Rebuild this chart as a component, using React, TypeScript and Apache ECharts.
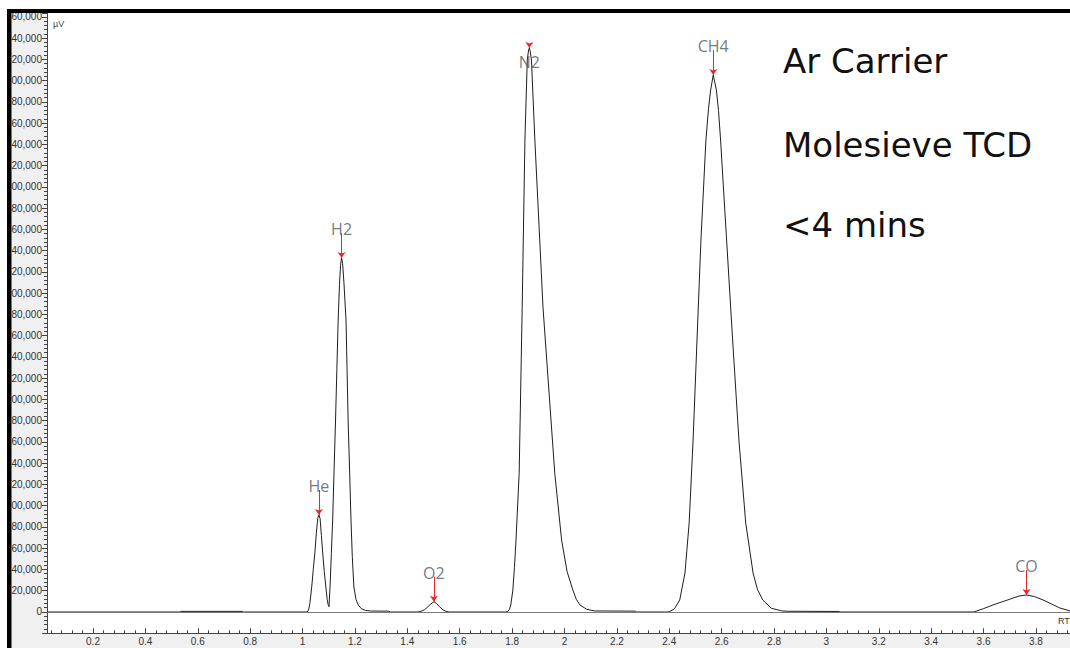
import React, { useEffect, useRef } from "react";
import * as echarts from "echarts";

// Retention time (min) of the chromatogram trace
const rt = [
  0.025, 0.53, 0.535, 0.77, 0.775, 1.01,
  // He
  1.018, 1.023, 1.028, 1.035, 1.041, 1.047, 1.053, 1.058, 1.0626, 1.067, 1.072, 1.077, 1.083, 1.089, 1.094, 1.098, 1.101,
  // H2
  1.105, 1.11, 1.115, 1.12, 1.126, 1.131, 1.136, 1.141, 1.145, 1.149, 1.153, 1.158, 1.166, 1.17, 1.174, 1.18, 1.185,
  1.19, 1.196, 1.204, 1.213, 1.225, 1.24, 1.26, 1.33, 1.335,
  // O2
  1.44, 1.452, 1.465, 1.478, 1.49, 1.5015, 1.512, 1.524, 1.536, 1.548, 1.56,
  // N2
  1.775, 1.784, 1.79, 1.795, 1.803, 1.809, 1.815, 1.827, 1.8386, 1.849, 1.858, 1.863, 1.866, 1.869, 1.874, 1.887,
  1.918, 1.963, 1.989, 2.01, 2.032, 2.045, 2.059, 2.085, 2.116, 2.27, 2.275,
  // CH4
  2.395, 2.402, 2.42, 2.44, 2.46, 2.476, 2.491, 2.506, 2.521, 2.54, 2.55, 2.558, 2.568, 2.58, 2.588, 2.596, 2.619,
  2.642, 2.666, 2.692, 2.72, 2.737, 2.757, 2.79, 2.83, 2.85, 3.05, 3.055,
  // CO
  3.56, 3.566, 3.6, 3.636, 3.67, 3.7, 3.735, 3.764, 3.795, 3.827, 3.86, 3.891, 3.93,
];

// Detector signal (µV) at each retention time
const uv = [
  0, 0, 600, 600, 0, 0,
  // He
  0, 2000, 8000, 23500, 40000, 55500, 75000, 88000, 91300, 88000, 72000, 55500, 38000, 23500, 12000, 6500, 5000,
  // H2
  23500, 55000, 86600, 130000, 180700, 228000, 274800, 308000, 326000, 333100, 328000, 310000, 274800, 228000, 180700,
  130000, 86600, 52000, 23500, 12000, 6500, 3000, 1500, 900, 800, 0,
  // O2
  0, 600, 2000, 4800, 7600, 9700, 7800, 4800, 2000, 600, 0,
  // N2
  0, 500, 2500, 6600, 20700, 42000, 67750, 130600, 286800, 444000, 519400, 529000, 530700, 528000, 519400, 444000,
  286800, 130600, 67750, 38000, 20700, 12000, 6600, 2500, 1000, 800, 0,
  // CH4
  0, 500, 3000, 11300, 36700, 83750, 161850, 256000, 350050, 444150, 474000, 491200, 505300, 491200, 472000, 444150,
  350050, 256000, 161850, 83750, 36700, 21000, 11300, 3500, 1000, 700, 500, 0,
  // CO
  0, 300, 3200, 6600, 9500, 12000, 15000, 16000, 14500, 11300, 7500, 3800, 1000,
];

// Identified peaks
const peakNames = ["He", "H2", "O2", "N2", "CH4", "CO"];
const peakRT = [1.0626, 1.149, 1.5015, 1.866, 2.568, 3.764];
const peakHeight = [91300, 333100, 9700, 530700, 505300, 16000];

// Axis ticks
const xTickValues = [0.2, 0.4, 0.6, 0.8, 1, 1.2, 1.4, 1.6, 1.8, 2, 2.2, 2.4, 2.6, 2.8, 3, 3.2, 3.4, 3.6, 3.8];
const X_MIN = 0.0244;
const X_MAX = 3.93;
const Y_MIN = -20000;
const Y_MAX = 563700;
const Y_STEP = 20000;

const ARROW_LEN = 23500;
const LABEL_ROOM = 15000;

export default function App() {
  const ref = useRef<HTMLDivElement>(null);

  useEffect(() => {
    if (!ref.current) return;
    const chart = echarts.init(ref.current, null, { renderer: "svg" });

    const xMinor: number[] = [];
    for (let k = 1; k * 0.04 < X_MAX; k++) {
      if (k % 5 !== 0) xMinor.push(Math.round(k * 0.04 * 1000) / 1000);
    }

    const signal = rt.map((x, i) => [x, uv[i]]);

    const isBelow = (i: number) => peakHeight[i] + ARROW_LEN + LABEL_ROOM > Y_MAX;

    const peakPoints = peakNames.map((name, i) => ({
      name,
      value: [peakRT[i], peakHeight[i]],
      label: isBelow(i)
        ? { position: "bottom", distance: 6 }
        : { position: "top", distance: 21 },
    }));

    const arrows = peakNames.map((name, i) => {
      const len = isBelow(i) ? 3000 : ARROW_LEN;
      return [
        { coord: [peakRT[i], peakHeight[i] + len] },
        { coord: [peakRT[i], peakHeight[i]] },
      ];
    });

    const fmtThousands = (v: number) =>
      String(Math.round(v)).replace(/\B(?=(\d{3})+(?!\d))/g, ",");

    chart.setOption({
      animation: false,
      backgroundColor: "#f0f0f0",
      grid: {
        left: 47,
        right: 0,
        top: 13,
        bottom: 14.75,
        show: true,
        backgroundColor: "#ffffff",
        borderWidth: 0,
      },
      xAxis: [
        {
          type: "value",
          min: X_MIN,
          max: X_MAX,
          position: "bottom",
          axisLine: { onZero: false, lineStyle: { color: "#444", width: 1 } },
          axisTick: { inside: true, length: 5, customValues: xTickValues, lineStyle: { color: "#444" } },
          axisLabel: {
            customValues: xTickValues,
            margin: 3,
            fontSize: 10,
            fontFamily: "Liberation Sans",
            color: "#333",
            formatter: (v: number) => String(Math.round(v * 10) / 10),
          },
          splitLine: { show: false },
        },
        {
          type: "value",
          min: X_MIN,
          max: X_MAX,
          position: "bottom",
          axisLine: { show: false, onZero: false },
          axisTick: { inside: true, length: 3, customValues: xMinor, lineStyle: { color: "#444" } },
          axisLabel: { show: false },
          splitLine: { show: false },
        },
      ],
      yAxis: {
        type: "value",
        min: Y_MIN,
        max: Y_MAX,
        interval: Y_STEP,
        axisLine: { show: true, onZero: false, lineStyle: { color: "#444", width: 1 } },
        axisTick: { show: true, length: 5, lineStyle: { color: "#444" } },
        minorTick: { show: true, splitNumber: 5, length: 3, lineStyle: { color: "#444" } },
        axisLabel: {
          margin: 5,
          fontSize: 10,
          fontFamily: "Liberation Sans",
          color: "#333",
          formatter: (v: number) => (v < 0 || v % Y_STEP !== 0 ? "" : fmtThousands(v)),
        },
        splitLine: { show: false },
        minorSplitLine: { show: false },
      },
      series: [
        {
          name: "Signal",
          type: "line",
          xAxisIndex: 0,
          data: signal,
          showSymbol: false,
          smooth: false,
          lineStyle: { color: "#1e1e1e", width: 1 },
          z: 3,
          markLine: {
            silent: true,
            symbol: "none",
            label: { show: false },
            lineStyle: { color: "#7a7a7a", width: 1, type: "solid" },
            data: [{ yAxis: 0 }],
          },
        },
        {
          name: "Peaks",
          type: "scatter",
          xAxisIndex: 0,
          data: peakPoints,
          symbolSize: 0,
          silent: true,
          z: 4,
          label: {
            show: true,
            formatter: (p: any) => p.name,
            fontSize: 16,
            fontFamily: "Open Sans",
            color: "#4f5660",
          },
          markLine: {
            silent: true,
            symbol: ["none", "arrow"],
            symbolSize: 6,
            label: { show: false },
            lineStyle: { color: "#e8262a", width: 1, type: "solid" },
            data: arrows,
          },
        },
      ],
      graphic: [
        { type: "rect", z: 100, shape: { x: 0, y: 0, width: 7, height: 648 }, style: { fill: "#ffffff" } },
        { type: "rect", z: 100, shape: { x: 0, y: 0, width: 1070, height: 9 }, style: { fill: "#ffffff" } },
        { type: "rect", z: 101, shape: { x: 7, y: 9, width: 4.5, height: 639 }, style: { fill: "#000000" } },
        { type: "rect", z: 101, shape: { x: 7, y: 9, width: 1063, height: 4 }, style: { fill: "#000000" } },
        {
          type: "text",
          z: 100,
          x: 53,
          y: 24,
          style: { text: "µV", fontSize: 9, fontFamily: "Liberation Sans", fill: "#444", verticalAlign: "middle" },
        },
        {
          type: "text",
          z: 100,
          x: 1058,
          y: 621,
          style: { text: "RT", fontSize: 9, fontFamily: "Liberation Sans", fill: "#333", verticalAlign: "middle" },
        },
        {
          type: "text",
          z: 100,
          x: 783,
          y: 61,
          style: { text: "Ar Carrier", fontSize: 34, fontFamily: "DejaVu Sans", fill: "#111", verticalAlign: "middle" },
        },
        {
          type: "text",
          z: 100,
          x: 783,
          y: 145,
          style: { text: "Molesieve TCD", fontSize: 34, fontFamily: "DejaVu Sans", fill: "#111", verticalAlign: "middle" },
        },
        {
          type: "text",
          z: 100,
          x: 783,
          y: 225,
          style: { text: "<4 mins", fontSize: 34, fontFamily: "DejaVu Sans", fill: "#111", verticalAlign: "middle" },
        },
      ],
    });

    return () => chart.dispose();
  }, []);

  return (
    <div
      ref={ref}
      style={{ position: "absolute", left: 0, top: 0, width: 1070, height: 648 }}
    />
  );
}
